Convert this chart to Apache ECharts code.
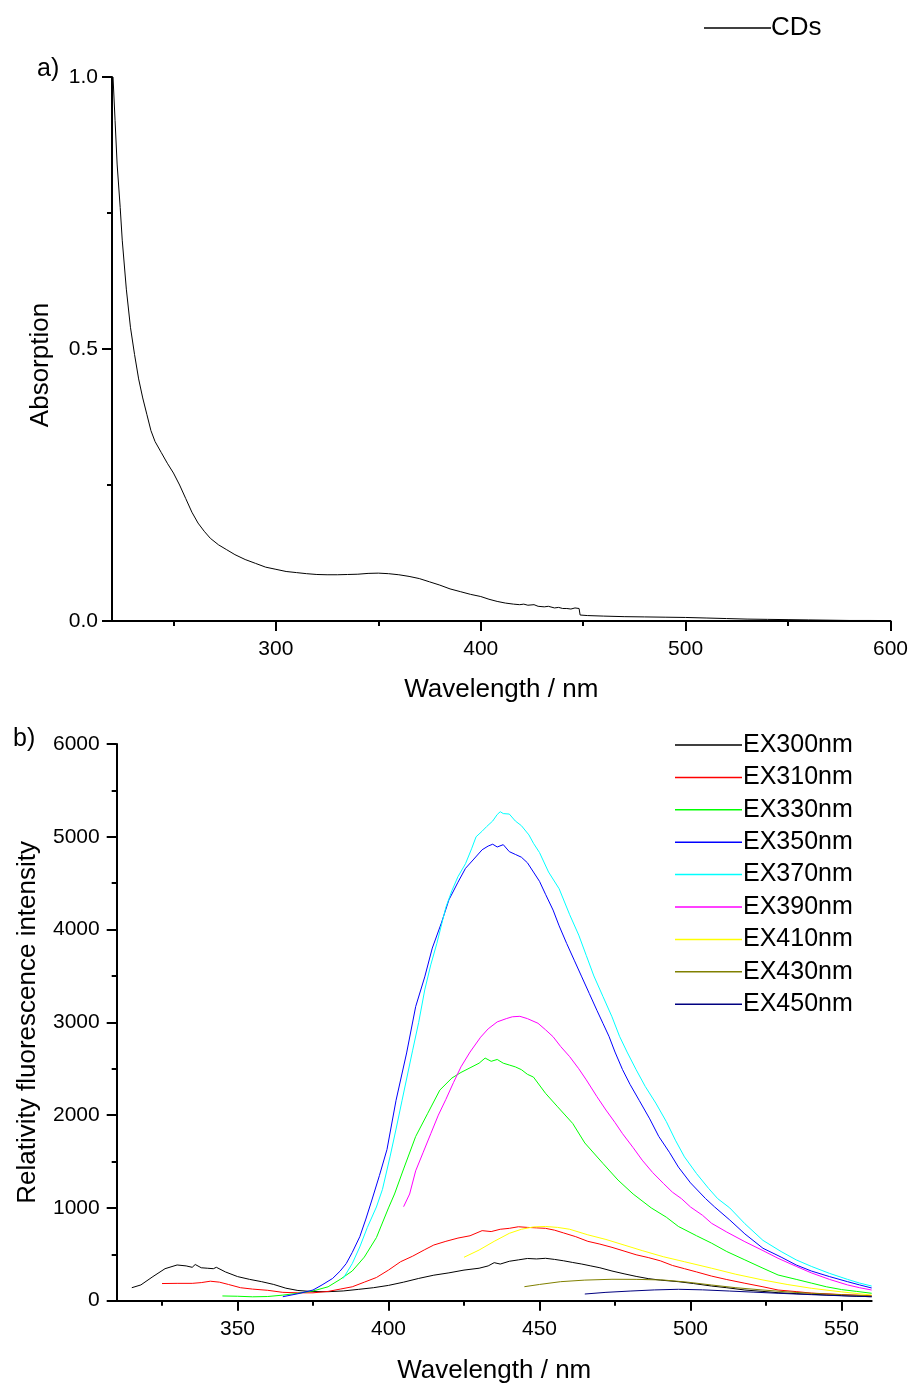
<!DOCTYPE html>
<html>
<head>
<meta charset="utf-8">
<script src="https://cdn.jsdelivr.net/npm/echarts@6/dist/echarts.min.js"></script>
<style>
html,body{margin:0;padding:0;background:#fff;}
#c{width:911px;height:1387px;}
</style>
</head>
<body>
<div id="c"></div>
<script>
// ---------- Panel a: absorption ----------
const absX = [220.5,221.5,222.5,224,225,227,229,231,233,235,237,239,241,244,247,250,253,256,259,262,265,268,272,276,280,285,290,295,300,305,310,315,320,325,330,335,340,345,350,355,360,365,370,375,380,385,390,395,400,404,408,412,416,419,421,423,426,428,431,433,436,438,440,442,444,446,448,448.5,452,460,470,480,490,500,510,520,530,540,550,560,570,580,590,600];
const absY = [1.00,0.92,0.84,0.76,0.70,0.61,0.54,0.49,0.445,0.41,0.38,0.35,0.33,0.31,0.29,0.272,0.25,0.225,0.20,0.18,0.165,0.152,0.14,0.131,0.122,0.113,0.106,0.099,0.095,0.091,0.089,0.087,0.0855,0.085,0.085,0.0855,0.086,0.0875,0.088,0.087,0.085,0.082,0.078,0.072,0.066,0.059,0.054,0.049,0.045,0.040,0.036,0.033,0.031,0.030,0.031,0.029,0.030,0.027,0.026,0.027,0.024,0.025,0.023,0.023,0.022,0.024,0.023,0.011,0.010,0.009,0.008,0.0075,0.007,0.0065,0.0055,0.0045,0.0035,0.003,0.0025,0.002,0.0015,0.001,0.001,0.0008];
const aMajorTicks = [300,400,500,600];
const aMinorTicks = [250,350,450,550];

// ---------- Panel b: fluorescence ----------
const ex300X = [315,318,322,326,330,333,335,336,338,340,342,343,346,350,354,358,362,366,370,375,380,385,390,395,400,405,410,415,420,425,430,433,435,437,440,443,446,449,452,455,458,461,464,467,470,474,478,482,486,490,496,501,507,512,518,524,529,535,540,545,550,555,560];
const ex300Y = [140,170,260,345,385,375,360,390,355,350,345,360,310,260,230,205,175,135,110,98,97,105,122,140,165,200,240,275,300,330,350,375,410,395,425,440,455,450,457,445,430,412,395,375,355,320,290,262,238,222,205,185,158,140,115,100,86,76,69,62,55,48,43];
const ex310X = [325,330,335,338,341,344,347,351,355,360,365,370,375,380,384,388,392,396,400,404,408,412,415,419,423,427,431,434,437,440,443,446,449,452,455,458,462,466,470,474,478,482,486,490,494,498,502,507,512,518,524,529,535,540,550,560];
const ex310Y = [185,187,187,195,210,200,175,140,125,112,90,85,85,100,125,150,200,250,330,420,480,550,600,640,675,700,755,745,770,780,797,790,785,780,760,730,690,640,610,575,535,495,465,430,380,345,310,265,228,188,150,115,98,82,66,54];
const ex330X = [345,350,355,360,365,370,375,380,384,388,392,396,400,402,405,409,413,417,421,424,427,430,432,434,436,438,440,442,444,446,448,452,456,461,465,471,476,481,487,492,496,502,507,512,518,524,529,535,540,545,550,555,560];
const ex330Y = [51,48,42,45,60,80,105,150,230,320,470,680,1000,1150,1420,1770,2020,2270,2400,2460,2510,2560,2615,2580,2600,2560,2540,2520,2490,2440,2410,2235,2090,1910,1700,1480,1300,1150,1000,900,800,700,620,530,440,350,277,230,190,150,120,100,80];
const ex350X = [365,370,375,378,381.5,384,386,388,390.5,392.5,394.5,397,399.5,402.5,406,409,412,414.5,417.5,420,423,425.5,428,431,433,434.5,436,438,440,442,444,446,448,450,452,454.5,456.5,459,461.5,464,466.5,469,471,473,475,477.5,480,483,486.5,489.5,493,496,500,505,508,513,518,524,530,535,540,546,552,556,560];
const ex350Y = [43,75,115,170,240,320,400,520,690,880,1085,1350,1630,2160,2670,3170,3490,3800,4070,4320,4510,4660,4750,4860,4900,4920,4890,4915,4840,4810,4780,4720,4620,4520,4380,4210,4040,3850,3670,3490,3310,3130,2990,2850,2680,2490,2330,2160,1960,1770,1600,1440,1270,1100,1010,870,720,565,470,385,320,260,205,170,137];
const ex370X = [385,388,390.5,393,396,398,400.5,402.5,404.5,408,410,412,414,416,419,421,423,425.5,427.5,429,431,432.5,434.5,436,437,438,440,442,444,446.5,448,450,453,456.5,460,463,465.5,468,471,474,476.5,479,482,485,488.5,492,495,498,502,506,509,513,518,524,530,535,540,546,552,556,560];
const ex370Y = [240,400,580,790,1010,1200,1550,1850,2160,2700,3000,3350,3620,3850,4240,4420,4570,4710,4870,5000,5060,5110,5170,5240,5270,5250,5245,5170,5120,5020,4930,4830,4620,4440,4160,3940,3720,3500,3280,3060,2850,2680,2490,2310,2130,1930,1730,1550,1370,1210,1100,1000,830,650,530,440,370,295,230,190,158];
const ex390X = [405,407,409,411.5,414,416.5,419,421.5,424,427,430.5,433,436,439,441,443.5,446,449.5,452,454.5,457,460,463,465.5,469,472,475,477.5,481,484,487.5,491,494,497,500,504,507,512,518,524,529,535,540,546,552,556,560];
const ex390Y = [1013,1150,1400,1600,1800,2000,2170,2350,2520,2680,2840,2930,3005,3040,3060,3065,3040,2990,2920,2845,2740,2630,2500,2380,2200,2055,1920,1800,1650,1515,1380,1265,1170,1100,1010,920,834,740,636,540,457,370,300,230,170,140,115];
const ex410X = [425,430,435,440,444,448,452,456,460,466,472,478,484,491,498,507,515,524,532,540,550,560];
const ex410Y = [468,546,640,726,770,795,800,790,770,710,660,600,540,474,420,350,285,223,175,134,95,61];
const ex430X = [445,450,457,465,474,482,491,499,507,515,524,532,540,550,560];
const ex430Y = [151,175,205,222,231,230,223,200,169,140,115,95,80,64,51];
const ex450X = [465,472,480,488,496,504,513,521,529,540,550,560];
const ex450Y = [72,90,104,116,123,117,104,92,80,65,53,43];
const bMajorTicks = [350,400,450,500,550];
const bMinorTicks = [325,375,425,475,525];

const exNames = ['EX300nm','EX310nm','EX330nm','EX350nm','EX370nm','EX390nm','EX410nm','EX430nm','EX450nm'];
const exColors = ['#000000','#ff0000','#00ff00','#0000ff','#00ffff','#ff00ff','#ffff00','#808000','#000080'];
const exData = [[ex300X,ex300Y],[ex310X,ex310Y],[ex330X,ex330Y],[ex350X,ex350Y],[ex370X,ex370Y],[ex390X,ex390Y],[ex410X,ex410Y],[ex430X,ex430Y],[ex450X,ex450Y]];

const FONT = "'Liberation Sans', Arial, sans-serif";
const zip = (xs, ys) => xs.map((x, i) => [x, ys[i]]);

const axisLineStyle = {show:true, lineStyle:{color:'#000', width:2}};

function majorX(gridIndex, min, max, ticks, name, gap) {
  return {
    type:'value', gridIndex, min, max, position:'bottom',
    axisLine: axisLineStyle,
    axisTick:{show:true, inside:false, length:10, lineStyle:{color:'#000', width:2}, customValues: ticks},
    axisLabel:{show:true, customValues: ticks, margin:18, color:'#000', fontSize:21, fontFamily:FONT},
    splitLine:{show:false},
    name, nameLocation:'middle', nameGap:gap,
    nameTextStyle:{color:'#000', fontSize:26, fontFamily:FONT}
  };
}
function minorX(gridIndex, min, max, ticks) {
  return {
    type:'value', gridIndex, min, max, position:'bottom',
    axisLine:{show:false},
    axisTick:{show:true, inside:false, length:5, lineStyle:{color:'#000', width:2}, customValues: ticks},
    axisLabel:{show:false},
    splitLine:{show:false}
  };
}

const option = {
  animation:false,
  backgroundColor:'#fff',
  textStyle:{fontFamily:FONT},
  title:[
    {text:'a)', left:32, top:52, textStyle:{fontSize:25, fontWeight:'normal', color:'#000', fontFamily:FONT}},
    {text:'b)', left:8, top:722, textStyle:{fontSize:25, fontWeight:'normal', color:'#000', fontFamily:FONT}}
  ],
  grid:[
    {left:112, top:77, width:779.7, height:544},
    {left:116.7, top:744, width:755, height:556.7}
  ],
  legend:[
    {data:['CDs'], left:704, top:13, orient:'vertical', icon:'rect', itemWidth:67, itemHeight:1.5, itemGap:4,
     padding:0, textStyle:{fontSize:26, color:'#000', fontFamily:FONT, lineHeight:30, padding:[0,0,0,-5]}},
    {data:exNames, left:675, top:731, orient:'vertical', icon:'rect', itemWidth:67, itemHeight:1.5, itemGap:4.4,
     padding:0, textStyle:{fontSize:25, color:'#000', fontFamily:FONT, lineHeight:28, padding:[0,0,0,-4]}}
  ],
  xAxis:[
    majorX(0, 220, 600, aMajorTicks, 'Wavelength / nm', 56),
    minorX(0, 220, 600, aMinorTicks),
    majorX(1, 310, 560, bMajorTicks, 'Wavelength / nm', 57),
    minorX(1, 310, 560, bMinorTicks)
  ],
  yAxis:[
    {type:'value', gridIndex:0, min:0, max:1, interval:0.5,
     axisLine:axisLineStyle,
     axisTick:{show:true, length:10, lineStyle:{color:'#000', width:2}},
     minorTick:{show:true, splitNumber:2, length:5, lineStyle:{color:'#000', width:2}},
     axisLabel:{margin:14, color:'#000', fontSize:21, fontFamily:FONT, formatter:v=>v.toFixed(1)},
     splitLine:{show:false}, minorSplitLine:{show:false},
     name:'Absorption', nameLocation:'middle', nameGap:58,
     nameTextStyle:{color:'#000', fontSize:26, fontFamily:FONT, padding:[0,32,0,0]}},
    {type:'value', gridIndex:1, min:0, max:6000, interval:1000,
     axisLine:axisLineStyle,
     axisTick:{show:true, length:10, lineStyle:{color:'#000', width:2}},
     minorTick:{show:true, splitNumber:2, length:5, lineStyle:{color:'#000', width:2}},
     axisLabel:{margin:17, color:'#000', fontSize:21, fontFamily:FONT, formatter:v=>String(v)},
     splitLine:{show:false}, minorSplitLine:{show:false},
     name:'Relativity fluorescence intensity', nameLocation:'middle', nameGap:76,
     nameTextStyle:{color:'#000', fontSize:26, fontFamily:FONT}}
  ],
  series:[
    {name:'CDs', type:'line', xAxisIndex:0, yAxisIndex:0, data:zip(absX, absY),
     symbol:'none', lineStyle:{color:'#000', width:1}, itemStyle:{color:'#000'}}
  ].concat(exNames.map((n, i) => ({
    name:n, type:'line', xAxisIndex:2, yAxisIndex:1, data:zip(exData[i][0], exData[i][1]),
    symbol:'none', lineStyle:{color:exColors[i], width:1}, itemStyle:{color:exColors[i]}
  })))
};

const chart = echarts.init(document.getElementById('c'), null, {renderer:'canvas'});
chart.setOption(option);
</script>
</body>
</html>
